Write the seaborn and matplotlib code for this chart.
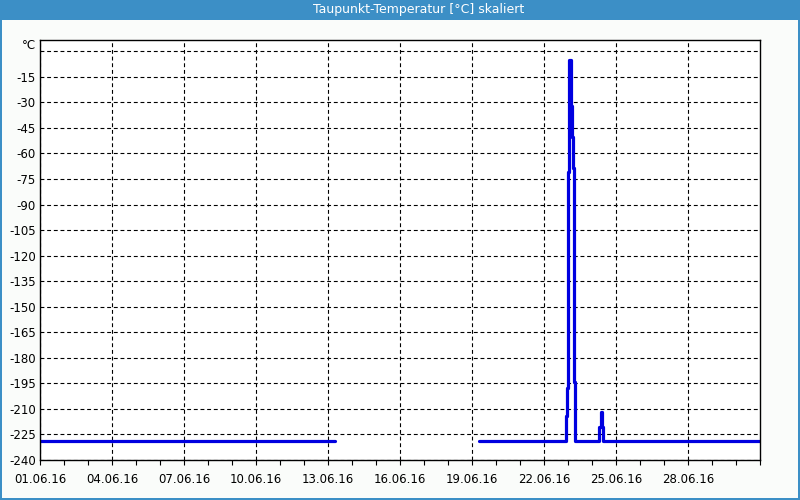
import matplotlib
matplotlib.use("Agg")
import matplotlib.pyplot as plt
import matplotlib.dates as mdates
from matplotlib.ticker import FixedLocator
from matplotlib.patches import Rectangle
import numpy as np
import pandas as pd
import seaborn as sns

# ---- data ----
seg1_times = ["2016-06-01 00:00", "2016-06-13 06:42"]
seg1_values = [-228.8, -228.8]

seg2_times = [
    "2016-06-19 07:00", "2016-06-22 21:42", "2016-06-22 23:00", "2016-06-23 00:18",
    "2016-06-23 01:18", "2016-06-23 02:42", "2016-06-23 03:18", "2016-06-23 04:00",
    "2016-06-23 05:18", "2016-06-23 06:18", "2016-06-23 07:18", "2016-06-24 07:18",
    "2016-06-24 08:42", "2016-06-24 10:00", "2016-06-24 11:00", "2016-07-01 00:00",
]
seg2_values = [
    -228.8, -214.0, -197.7, -70.9,
    -5.0, -18.8, -31.9, -50.1,
    -68.3, -194.4, -228.8, -220.8,
    -211.8, -220.8, -228.8, -228.8,
]

x_tick_dates = ["2016-06-01", "2016-06-04", "2016-06-07", "2016-06-10", "2016-06-13",
                "2016-06-16", "2016-06-19", "2016-06-22", "2016-06-25", "2016-06-28"]
y_ticks = list(range(-240, 1, 15))
y_tick_labels = [str(v) for v in y_ticks[:-1]] + [""]
title = "Taupunkt-Temperatur [°C] skaliert"
unit_label = "°C"

df = pd.DataFrame({
    "time": pd.to_datetime(seg1_times + seg2_times),
    "value": seg1_values + seg2_values,
    "segment": [1] * len(seg1_times) + [2] * len(seg2_times),
})

# ---- style ----
sns.set_theme(style="white")
plt.rcParams["font.family"] = ["DejaVu Sans"]
plt.rcParams["axes.unicode_minus"] = False

bg = "#fafcfa"
frame_blue = "#3c8fc6"

fig = plt.figure(figsize=(8, 5), dpi=100, facecolor=bg)
ax = fig.add_axes([40 / 800, 40 / 500, 720 / 800, 420 / 500])
ax.set_facecolor("white")

sns.lineplot(data=df, x="time", y="value", units="segment", estimator=None,
             color="#0000e0", linewidth=2.3, drawstyle="steps-post", ax=ax,
             legend=False)

ax.set_xlim(pd.Timestamp("2016-06-01"), pd.Timestamp("2016-07-01"))
ax.set_ylim(-240, 6.6)
ax.set_yticks(y_ticks)
ax.set_yticklabels(y_tick_labels)
ax.xaxis.set_major_locator(FixedLocator(mdates.date2num(pd.to_datetime(x_tick_dates))))
ax.xaxis.set_minor_locator(mdates.DayLocator())
ax.xaxis.set_major_formatter(mdates.DateFormatter("%d.%m.%y"))

ax.set_xlabel("")
ax.set_ylabel("")
ax.grid(True, which="major", color="black", linestyle=(0, (3.5, 2.5)), linewidth=0.8)
ax.tick_params(axis="x", which="both", direction="out", length=3.6, width=0.8,
               color="black", bottom=True, labelsize=8.5, pad=6, labelcolor="black")
ax.tick_params(axis="y", length=0, labelsize=8.5, pad=3, labelcolor="black")
for s in ax.spines.values():
    s.set_visible(True)
    s.set_color("black")
    s.set_linewidth(1.0)

ax.text(-0.006, 3.5, unit_label, transform=ax.get_yaxis_transform(),
        ha="right", va="center", fontsize=8.5, color="black")

# title bar and frame
fig.patches.append(Rectangle((0, 480 / 500), 1, 20 / 500, transform=fig.transFigure,
                             facecolor=frame_blue, edgecolor="none", zorder=0))
fig.patches.append(Rectangle((0, 0), 2 / 800, 1, transform=fig.transFigure,
                             facecolor=frame_blue, edgecolor="none", zorder=0))
fig.patches.append(Rectangle((798 / 800, 0), 2 / 800, 1, transform=fig.transFigure,
                             facecolor=frame_blue, edgecolor="none", zorder=0))
fig.patches.append(Rectangle((0, 0), 1, 2 / 500, transform=fig.transFigure,
                             facecolor=frame_blue, edgecolor="none", zorder=0))
fig.text(419 / 800, 490 / 500, title, ha="center", va="center", color="white",
         fontsize=9)

fig.savefig("out.png", dpi=100, facecolor=bg)
